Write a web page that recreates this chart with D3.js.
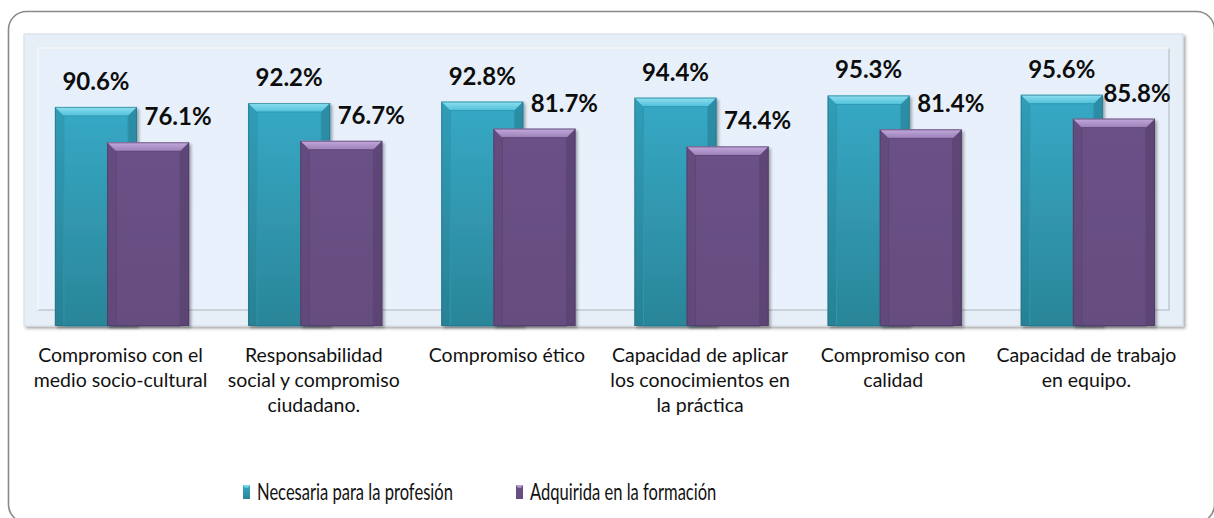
<!DOCTYPE html>
<html lang="es">
<head>
<meta charset="UTF-8">
<title>Competencias</title>
<script src="https://cdn.jsdelivr.net/npm/d3@7"></script>
<style>
    html, body { margin: 0; padding: 0; background: #ffffff; }
    svg { display: block; font-family: Lato, "Open Sans", sans-serif; }
</style>
</head>
<body>
<svg id="chart" width="1214" height="518"></svg>
<script>
// categories, split in lines as in the original axis
const categories = [
    ["Compromiso con el", "medio socio-cultural"],
    ["Responsabilidad", "social y compromiso", "ciudadano."],
    ["Compromiso ético"],
    ["Capacidad de aplicar", "los conocimientos en", "la práctica"],
    ["Compromiso con", "calidad"],
    ["Capacidad de trabajo", "en equipo."]
];
const seriesNames = ["Necesaria para la profesión", "Adquirida en la formación"];
const necesaria = [90.6, 92.2, 92.8, 94.4, 95.3, 95.6];
const adquirida = [76.1, 76.7, 81.7, 74.4, 81.4, 85.8];

const svg = d3.select("#chart");

// chart frame (rounded, cut on the right and bottom)
svg.append("rect")
    .attr("x", 8.5).attr("y", 11.5)
    .attr("width", 1206).attr("height", 511)
    .attr("rx", 18)
    .attr("fill", "#ffffff")
    .attr("stroke", "#8a8a8a")
    .attr("stroke-width", 1.6);

const plot = {left: 24, right: 1183, top: 34, bottom: 326};
const x = d3.scaleBand()
    .domain(d3.range(categories.length))
    .range([plot.left, plot.right]);
const y = d3.scaleLinear()
    .domain([0, 100])
    .range([328, 84]);

const defs = svg.append("defs");
function grad(id, stops, vertical) {
    const g = defs.append("linearGradient").attr("id", id)
        .attr("x1", 0).attr("y1", 0)
        .attr("x2", vertical ? 0 : 1).attr("y2", vertical ? 1 : 0);
    stops.forEach(s => g.append("stop").attr("offset", s[0]).attr("stop-color", s[1]));
}
grad("teal", [[0, "#37a9c6"], [1, "#2a8598"]], true);
grad("tealTop", [[0, "#8fe0f0"], [1, "#4fc0da"]], true);
grad("purple", [[0, "#6a5186"], [1, "#664d80"]], true);
grad("purpleTop", [[0, "#c3a9dd"], [1, "#9a80b6"]], true);
grad("wall", [[0, "#e7f0fa"], [1, "#e9f2fc"]], true);

const shadow = defs.append("filter").attr("id", "shadow")
    .attr("x", "-10%").attr("y", "-10%").attr("width", "130%").attr("height", "130%");
shadow.append("feDropShadow").attr("dx", 2).attr("dy", 2).attr("stdDeviation", 1.5)
    .attr("flood-color", "#000").attr("flood-opacity", 0.35);

// plot area: floor/side panel and back wall
svg.append("rect")
    .attr("x", plot.left).attr("y", plot.top)
    .attr("width", plot.right - plot.left).attr("height", plot.bottom - plot.top)
    .attr("fill", "#e6eef8")
    .attr("stroke", "#d5dbe2").attr("stroke-width", 1)
    .attr("filter", "url(#shadow)");
svg.append("rect")
    .attr("x", plot.left + 14).attr("y", plot.top + 14)
    .attr("width", plot.right - plot.left - 28).attr("height", plot.bottom - plot.top - 30)
    .attr("fill", "url(#wall)")
    .attr("stroke", "#b9bec4").attr("stroke-width", 1.2);
svg.append("path")
    .attr("d", `M${plot.left + 14},${plot.bottom - 16} V${plot.top + 14} H${plot.right - 14}`)
    .attr("fill", "none").attr("stroke", "#ffffff").attr("stroke-width", 1.5);

const bw = x.bandwidth() * 0.425;
const offsets = [x.bandwidth() * 0.16, x.bandwidth() * 0.43];
const series = [
    {values: necesaria, body: "url(#teal)", top: "url(#tealTop)", side: "#23788c", edge: "#1f6f82", inner: "#2f97b1"},
    {values: adquirida, body: "url(#purple)", top: "url(#purpleTop)", side: "#54406b", edge: "#4a385f", inner: "#5d4677"}
];

function drawBar(g, x0, y0, w, h, s) {
    const b = 9;
    g.append("rect").attr("x", x0).attr("y", y0).attr("width", w).attr("height", h)
        .attr("fill", s.body).attr("filter", "url(#shadow)");
    // top bevel
    g.append("path")
        .attr("d", `M${x0},${y0} H${x0 + w} L${x0 + w - b},${y0 + b} H${x0 + b} Z`)
        .attr("fill", s.top);
    // right bevel
    g.append("path")
        .attr("d", `M${x0 + w},${y0} V${y0 + h} H${x0 + w - b} V${y0 + b} Z`)
        .attr("fill", s.side).attr("opacity", 0.55);
    // left bevel
    g.append("path")
        .attr("d", `M${x0},${y0} V${y0 + h} H${x0 + b} V${y0 + b} Z`)
        .attr("fill", s.side).attr("opacity", 0.25);
    // inner panel edge
    g.append("rect").attr("x", x0 + b).attr("y", y0 + b)
        .attr("width", w - 2 * b).attr("height", h - b)
        .attr("fill", "none").attr("stroke", s.inner).attr("stroke-width", 1);
    g.append("rect").attr("x", x0 + 0.5).attr("y", y0 + 0.5).attr("width", w - 1).attr("height", h - 1)
        .attr("fill", "none").attr("stroke", s.edge).attr("stroke-width", 1).attr("opacity", 0.6);
}

const bars = svg.append("g");
series.forEach((s, si) => {
    s.values.forEach((v, i) => {
        const x0 = x(i) + offsets[si];
        const y0 = y(v);
        drawBar(bars.append("g"), x0, y0, bw, plot.bottom - y0, s);
    });
});

// value labels
const labels = svg.append("g")
    .attr("font-weight", "bold")
    .attr("font-size", 24)
    .attr("fill", "#0d0d0d")
    .attr("text-anchor", "middle");
series.forEach((s, si) => {
    labels.selectAll(null)
        .data(s.values)
        .join("text")
        .attr("x", (v, i) => Math.min(x(i) + offsets[si] + bw / 2 + (si === 1 ? 30 : 0), plot.right - 46))
        .attr("y", v => y(v) - 17)
        .text(v => v.toFixed(1) + "%");
});

// category axis labels
const cats = svg.append("g")
    .attr("font-size", 19.5)
    .attr("fill", "#111111")
    .attr("text-anchor", "middle");
categories.forEach((lines, i) => {
    const t = cats.append("text")
        .attr("x", x(i) + x.bandwidth() / 2)
        .attr("y", 362);
    lines.forEach((ln, j) => {
        t.append("tspan")
            .attr("x", x(i) + x.bandwidth() / 2)
            .attr("dy", j === 0 ? 0 : 25)
            .text(ln);
    });
});

// legend
const legendX = [243, 516];
const legend = svg.append("g").attr("font-size", 23).attr("fill", "#111111");
seriesNames.forEach((name, si) => {
    const s = series[si];
    const g = legend.append("g").attr("transform", `translate(${legendX[si]},485)`);
    g.append("rect").attr("width", 7).attr("height", 14).attr("fill", s.body);
    g.append("path").attr("d", "M0,0 H7 L5,3 H2 Z").attr("fill", s.top);
    g.append("text")
        .attr("transform", "translate(14,15) scale(0.72,1)")
        .text(name);
});
</script>
</body>
</html>
